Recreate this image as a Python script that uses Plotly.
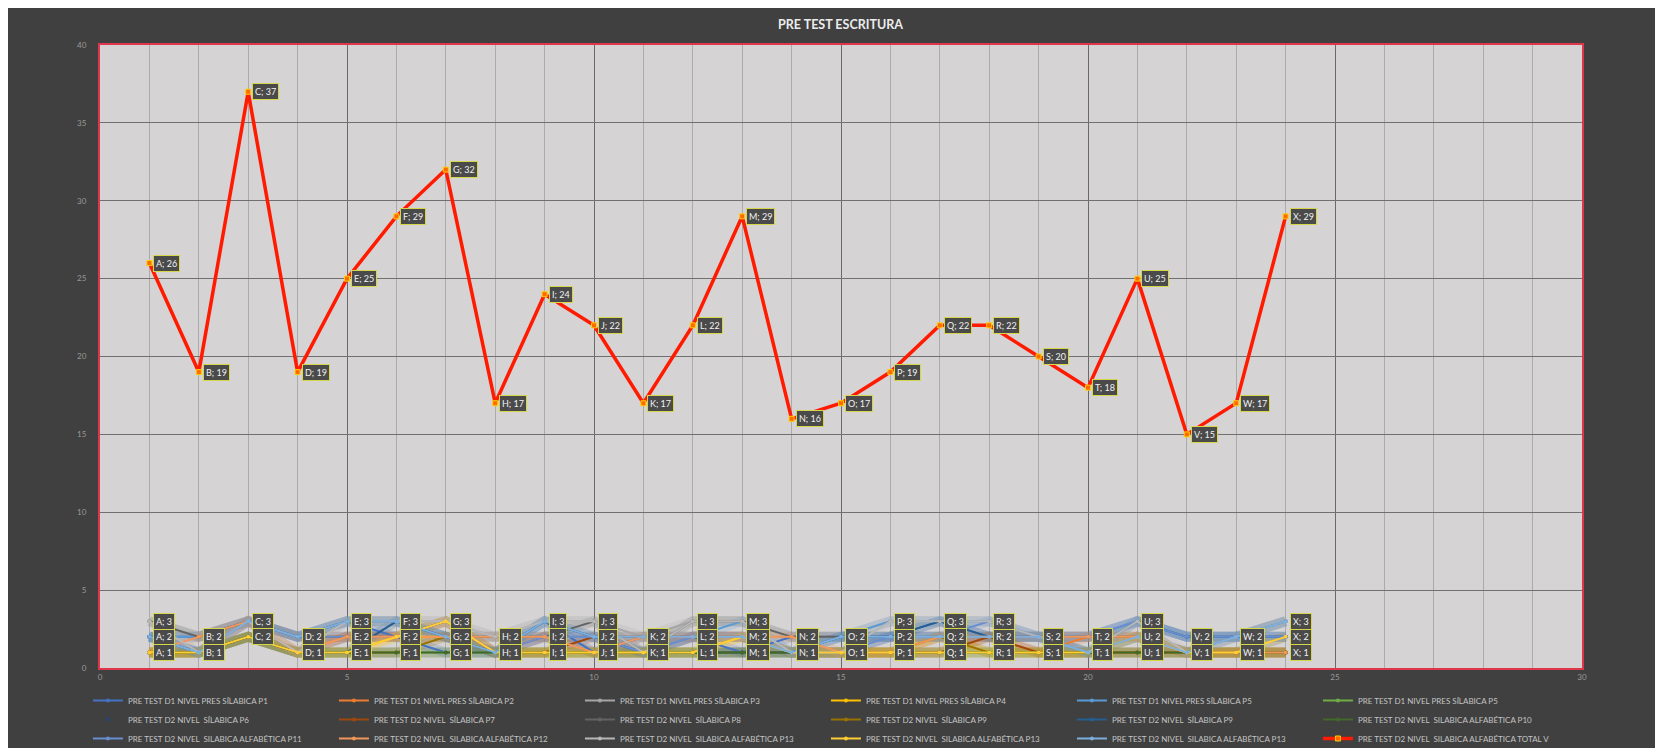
import plotly.graph_objects as go

# categories (x positions 1..24 with letter labels)
letters = list("ABCDEFGHIJKLMNOPQRSTUVWX")
x_vals = list(range(1, 25))

series_names = [
    "PRE TEST D1 NIVEL PRES SÍLABICA P1",
    "PRE TEST D1 NIVEL PRES SÍLABICA P2",
    "PRE TEST D1 NIVEL PRES SÍLABICA P3",
    "PRE TEST D1 NIVEL PRES SÍLABICA P4",
    "PRE TEST D1 NIVEL PRES SÍLABICA P5",
    "PRE TEST D1 NIVEL PRES SÍLABICA P5",
    "PRE TEST D2 NIVEL  SÍLABICA P6",
    "PRE TEST D2 NIVEL  SÍLABICA P7",
    "PRE TEST D2 NIVEL  SÍLABICA P8",
    "PRE TEST D2 NIVEL  SÍLABICA P9",
    "PRE TEST D2 NIVEL  SÍLABICA P9",
    "PRE TEST D2 NIVEL  SILABICA ALFABÉTICA P10",
    "PRE TEST D2 NIVEL  SILABICA ALFABÉTICA P11",
    "PRE TEST D2 NIVEL  SILABICA ALFABÉTICA P12",
    "PRE TEST D2 NIVEL  SILABICA ALFABÉTICA P13",
    "PRE TEST D2 NIVEL  SILABICA ALFABÉTICA P13",
    "PRE TEST D2 NIVEL  SILABICA ALFABÉTICA P13",
]
series_colors = [
    "#4472C4", "#ED7D31", "#A5A5A5", "#FFC000", "#5B9BD5", "#70AD47",
    "#264478", "#9E480E", "#636363", "#997300", "#255E91", "#43682B",
    "#698ED0", "#F1975A", "#B7B7B7", "#FFCD33", "#7CAFDD",
]

p1 = [2, 2, 3, 2, 3, 2, 1, 1, 3, 1, 2, 2, 1, 2, 2, 2, 3, 2, 2, 2, 3, 2, 2, 2]
p2 = [1, 1, 3, 1, 2, 2, 3, 1, 2, 2, 1, 2, 2, 1, 1, 1, 1, 2, 1, 2, 2, 1, 1, 1]
p3 = [3, 2, 3, 1, 3, 3, 3, 2, 3, 3, 2, 3, 3, 2, 2, 3, 3, 3, 2, 2, 3, 2, 2, 3]
p4 = [1, 1, 2, 1, 1, 2, 2, 1, 1, 1, 1, 1, 2, 1, 1, 1, 2, 1, 1, 1, 1, 1, 1, 1]
p5a = [2, 2, 3, 2, 3, 3, 2, 2, 2, 2, 1, 2, 3, 1, 2, 3, 3, 3, 2, 2, 3, 2, 2, 3]
p5b = [1, 1, 2, 1, 1, 1, 1, 1, 1, 1, 1, 1, 1, 1, 1, 1, 1, 1, 1, 1, 1, 1, 1, 1]
p6 = [2, 1, 2, 1, 2, 2, 2, 1, 2, 1, 1, 2, 2, 1, 1, 2, 2, 2, 2, 1, 2, 1, 1, 2]
p7 = [1, 1, 3, 2, 2, 2, 3, 1, 1, 2, 2, 2, 2, 1, 1, 1, 1, 2, 1, 1, 1, 1, 1, 1]
p8 = [3, 2, 3, 2, 3, 3, 2, 2, 2, 3, 1, 3, 3, 2, 2, 2, 2, 2, 2, 2, 2, 1, 2, 3]
p9a = [1, 1, 2, 1, 1, 1, 2, 1, 1, 1, 1, 1, 1, 1, 1, 1, 2, 1, 1, 1, 2, 1, 1, 1]
p9b = [2, 1, 2, 1, 1, 3, 2, 1, 3, 2, 1, 1, 1, 1, 2, 2, 3, 2, 2, 1, 3, 2, 2, 2]
p10 = [1, 1, 2, 1, 1, 1, 1, 1, 1, 1, 1, 1, 1, 1, 1, 1, 1, 1, 1, 1, 1, 1, 1, 1]
p11 = [2, 1, 3, 2, 2, 2, 3, 1, 2, 2, 1, 2, 2, 1, 1, 2, 2, 3, 2, 2, 3, 2, 2, 2]
p12 = [1, 2, 3, 1, 2, 2, 2, 2, 2, 1, 2, 2, 2, 2, 1, 1, 2, 2, 2, 2, 2, 1, 1, 1]
p13a = [3, 1, 3, 1, 3, 3, 3, 2, 3, 3, 1, 3, 3, 1, 1, 3, 3, 3, 2, 1, 3, 1, 2, 3]
p13b = [1, 1, 2, 1, 1, 2, 3, 1, 1, 1, 1, 1, 2, 1, 1, 1, 1, 1, 1, 1, 2, 1, 1, 2]
p13c = [2, 1, 3, 2, 3, 3, 2, 1, 3, 2, 2, 2, 2, 1, 2, 2, 2, 2, 2, 1, 2, 1, 2, 3]

total_name = "PRE TEST D2 NIVEL  SILABICA ALFABÉTICA TOTAL V"
total_v = [26, 19, 37, 19, 25, 29, 32, 17, 24, 22, 17, 22, 29, 16, 17, 19, 22, 22, 20, 18, 25, 15, 17, 29]

series_values = [p1, p2, p3, p4, p5a, p5b, p6, p7, p8, p9a, p9b, p10, p11, p12, p13a, p13b, p13c]

fig = go.Figure()

# soft glow under the small series
for vals, col in zip(series_values, series_colors):
    fig.add_trace(go.Scatter(
        x=x_vals, y=vals, mode="lines",
        line=dict(color=col, width=10), opacity=0.18,
        showlegend=False, hoverinfo="skip",
    ))

for i, (name, vals, col) in enumerate(zip(series_names, series_values, series_colors)):
    fig.add_trace(go.Scatter(
        x=x_vals, y=vals, name=name,
        mode="markers" if i == 6 else "lines+markers",
        line=dict(color=col, width=2),
        marker=dict(color=col, size=4, symbol="circle"),
    ))

fig.add_trace(go.Scatter(
    x=x_vals, y=total_v, name=total_name,
    mode="lines+markers",
    line=dict(color="#FF1A00", width=3.5),
    marker=dict(color="#FF6A00", size=5, symbol="square",
                line=dict(color="#FFD000", width=1)),
))

label_style = dict(
    showarrow=False, xanchor="left", yanchor="middle", xshift=4,
    bgcolor="#4a4a4a", bordercolor="#d6d64a", borderwidth=1, borderpad=2,
    font=dict(color="#f2f2f2", size=9, family="Lato"),
)

# data labels for the small series (one box per distinct value)
seen = set()
for vals in series_values:
    for xv, lt, v in zip(x_vals, letters, vals):
        if (xv, v) in seen:
            continue
        seen.add((xv, v))
        fig.add_annotation(x=xv, y=v, text=f"{lt}; {v}", **label_style)

for xv, lt, v in zip(x_vals, letters, total_v):
    fig.add_annotation(x=xv, y=v, text=f"{lt}; {v}", **label_style)

fig.update_layout(
    width=1655, height=740,
    margin=dict(l=92, r=81, t=37, b=80),
    paper_bgcolor="#404040",
    plot_bgcolor="#d5d3d3",
    title=dict(text="<b>PRE TEST ESCRITURA</b>", x=0.503, xanchor="center",
               y=0.978, yanchor="middle",
               font=dict(family="Lato", size=12.5, color="#ececec")),
    font=dict(family="Lato", color="#b0b0b0"),
    showlegend=True,
    legend=dict(
        orientation="h",
        xref="container", x=0.0483, xanchor="left",
        yref="container", y=0.0838, yanchor="top",
        entrywidth=201, entrywidthmode="pixels", itemwidth=30,
        font=dict(size=8, color="#c4c4c4", family="Lato"),
        bgcolor="rgba(0,0,0,0)", tracegroupgap=0,
    ),
    hovermode=False,
)

fig.update_xaxes(
    range=[0, 30], dtick=5, tick0=0, automargin=False,
    showgrid=True, gridcolor="#6a6a6a", gridwidth=1,
    minor=dict(dtick=1, showgrid=True, gridcolor="#ababab", gridwidth=1),
    showline=True, linecolor="#e0364c", linewidth=2, mirror=True,
    zeroline=False, ticks="",
    tickfont=dict(size=8, color="#9a9a9a"),
)
fig.update_yaxes(
    range=[0, 40], dtick=5, tick0=0, automargin=False,
    showgrid=True, gridcolor="#707070", gridwidth=1,
    showline=True, linecolor="#e0364c", linewidth=2, mirror=True,
    zeroline=False, ticks="", ticklabelstandoff=10,
    tickfont=dict(size=8, color="#9a9a9a"),
)

fig.write_html("out.html")
